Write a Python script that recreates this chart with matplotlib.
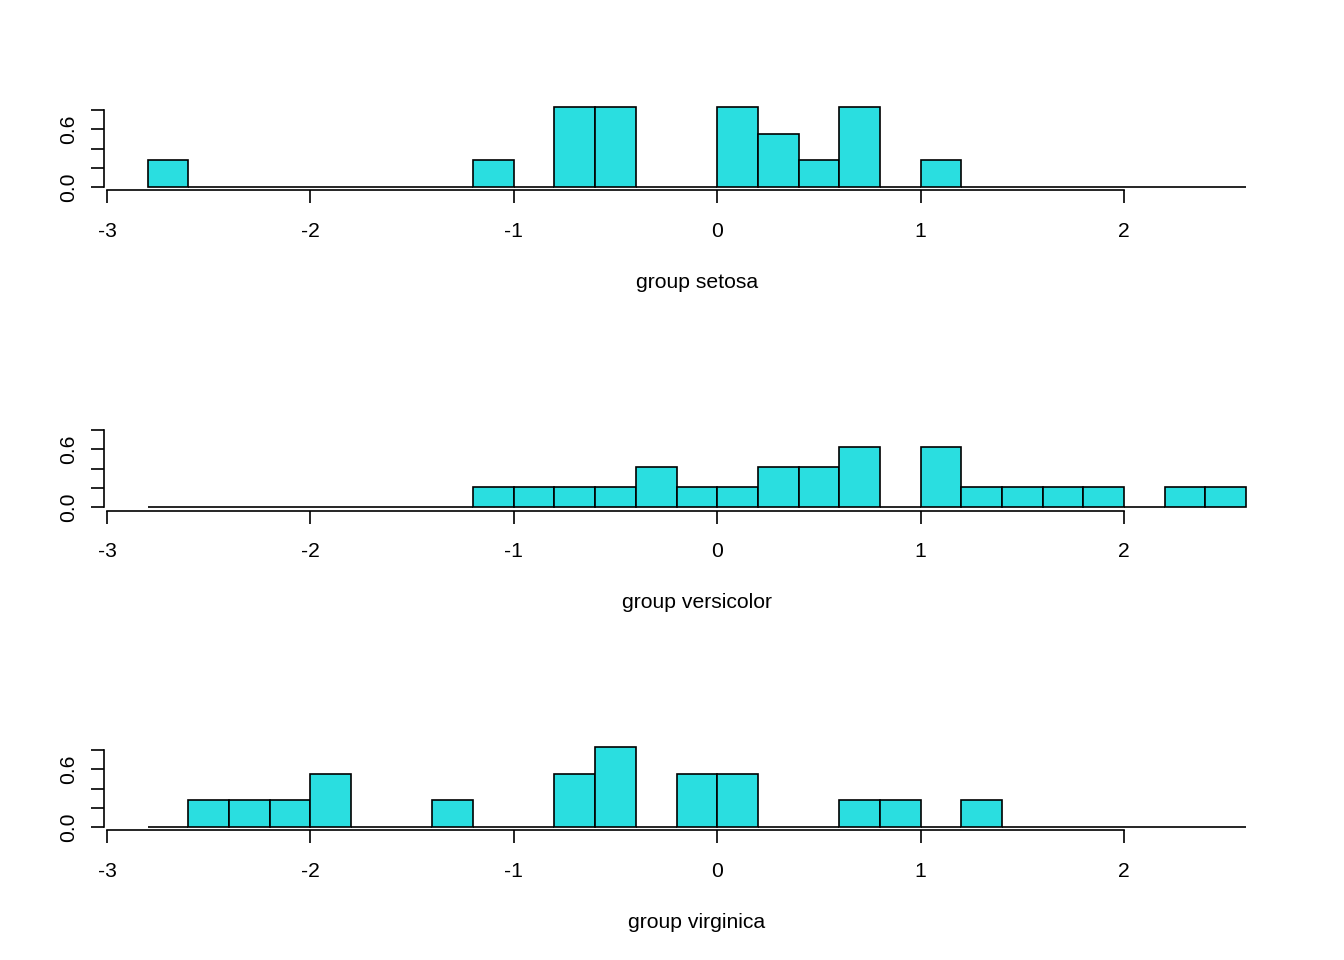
import numpy as np
import matplotlib
matplotlib.use("Agg")
import matplotlib.pyplot as plt

plt.rcParams['font.family'] = ['Liberation Sans', 'DejaVu Sans']

# histogram bins (left edges) and counts per group
bin_edges = np.round(np.arange(-2.8, 2.6001, 0.2), 2)
groups = ["setosa", "versicolor", "virginica"]
counts_setosa = [1, 0, 0, 0, 0, 0, 0, 0, 1, 0, 3, 3, 0, 0, 3, 2, 1, 3, 0, 1, 0, 0, 0, 0, 0, 0, 0]
counts_versicolor = [0, 0, 0, 0, 0, 0, 0, 0, 1, 1, 1, 1, 2, 1, 1, 2, 2, 3, 0, 3, 1, 1, 1, 1, 0, 1, 1]
counts_virginica = [0, 1, 1, 1, 2, 0, 0, 1, 0, 0, 2, 3, 0, 2, 2, 0, 0, 1, 1, 0, 1, 0, 0, 0, 0, 0, 0]
x_ticks = [-3, -2, -1, 0, 1, 2]
y_ticks = [0.0, 0.2, 0.4, 0.6, 0.8]
y_ticklabels = ["0.0", "", "", "0.6", ""]

all_counts = [counts_setosa, counts_versicolor, counts_virginica]
width = 0.2
densities = [np.array(c) / (sum(c) * width) for c in all_counts]
ymax = max(d.max() for d in densities)

xlo, xhi = bin_edges[0], bin_edges[-1]
xpad = 0.04 * (xhi - xlo)
ypad = 0.04 * ymax

fig = plt.figure(figsize=(13.44, 9.6), dpi=100)
fs = 15.2
bar_color = "#2ADEE0"
bottoms = [0.8016, 0.4682, 0.1349]

for name, dens, b in zip(groups, densities, bottoms):
    ax = fig.add_axes([0.0772, b, 0.8826, 0.0906])
    ax.bar(bin_edges[:-1], dens, width=width, align="edge", color=bar_color,
           edgecolor="black", linewidth=1.2)
    ax.set_xlim(xlo - xpad, xhi + xpad)
    ax.set_ylim(-ypad, ymax + ypad)
    for side in ["top", "right"]:
        ax.spines[side].set_visible(False)
    ax.spines["bottom"].set_bounds(x_ticks[0], x_ticks[-1])
    ax.spines["left"].set_bounds(y_ticks[0], y_ticks[-1])
    ax.spines["bottom"].set_linewidth(1.2)
    ax.spines["left"].set_linewidth(1.2)
    ax.set_xticks(x_ticks)
    ax.set_xticklabels([str(t) for t in x_ticks])
    ax.set_yticks(y_ticks)
    ax.set_yticklabels(y_ticklabels, rotation=90, va="center")
    ax.tick_params(axis="both", length=9.4, width=1.2, labelsize=fs)
    ax.tick_params(axis="x", pad=13.3)
    ax.tick_params(axis="y", pad=9)
    ax.set_xlabel("group " + name, fontsize=fs, labelpad=23)

fig.savefig("out.png", dpi=100)
